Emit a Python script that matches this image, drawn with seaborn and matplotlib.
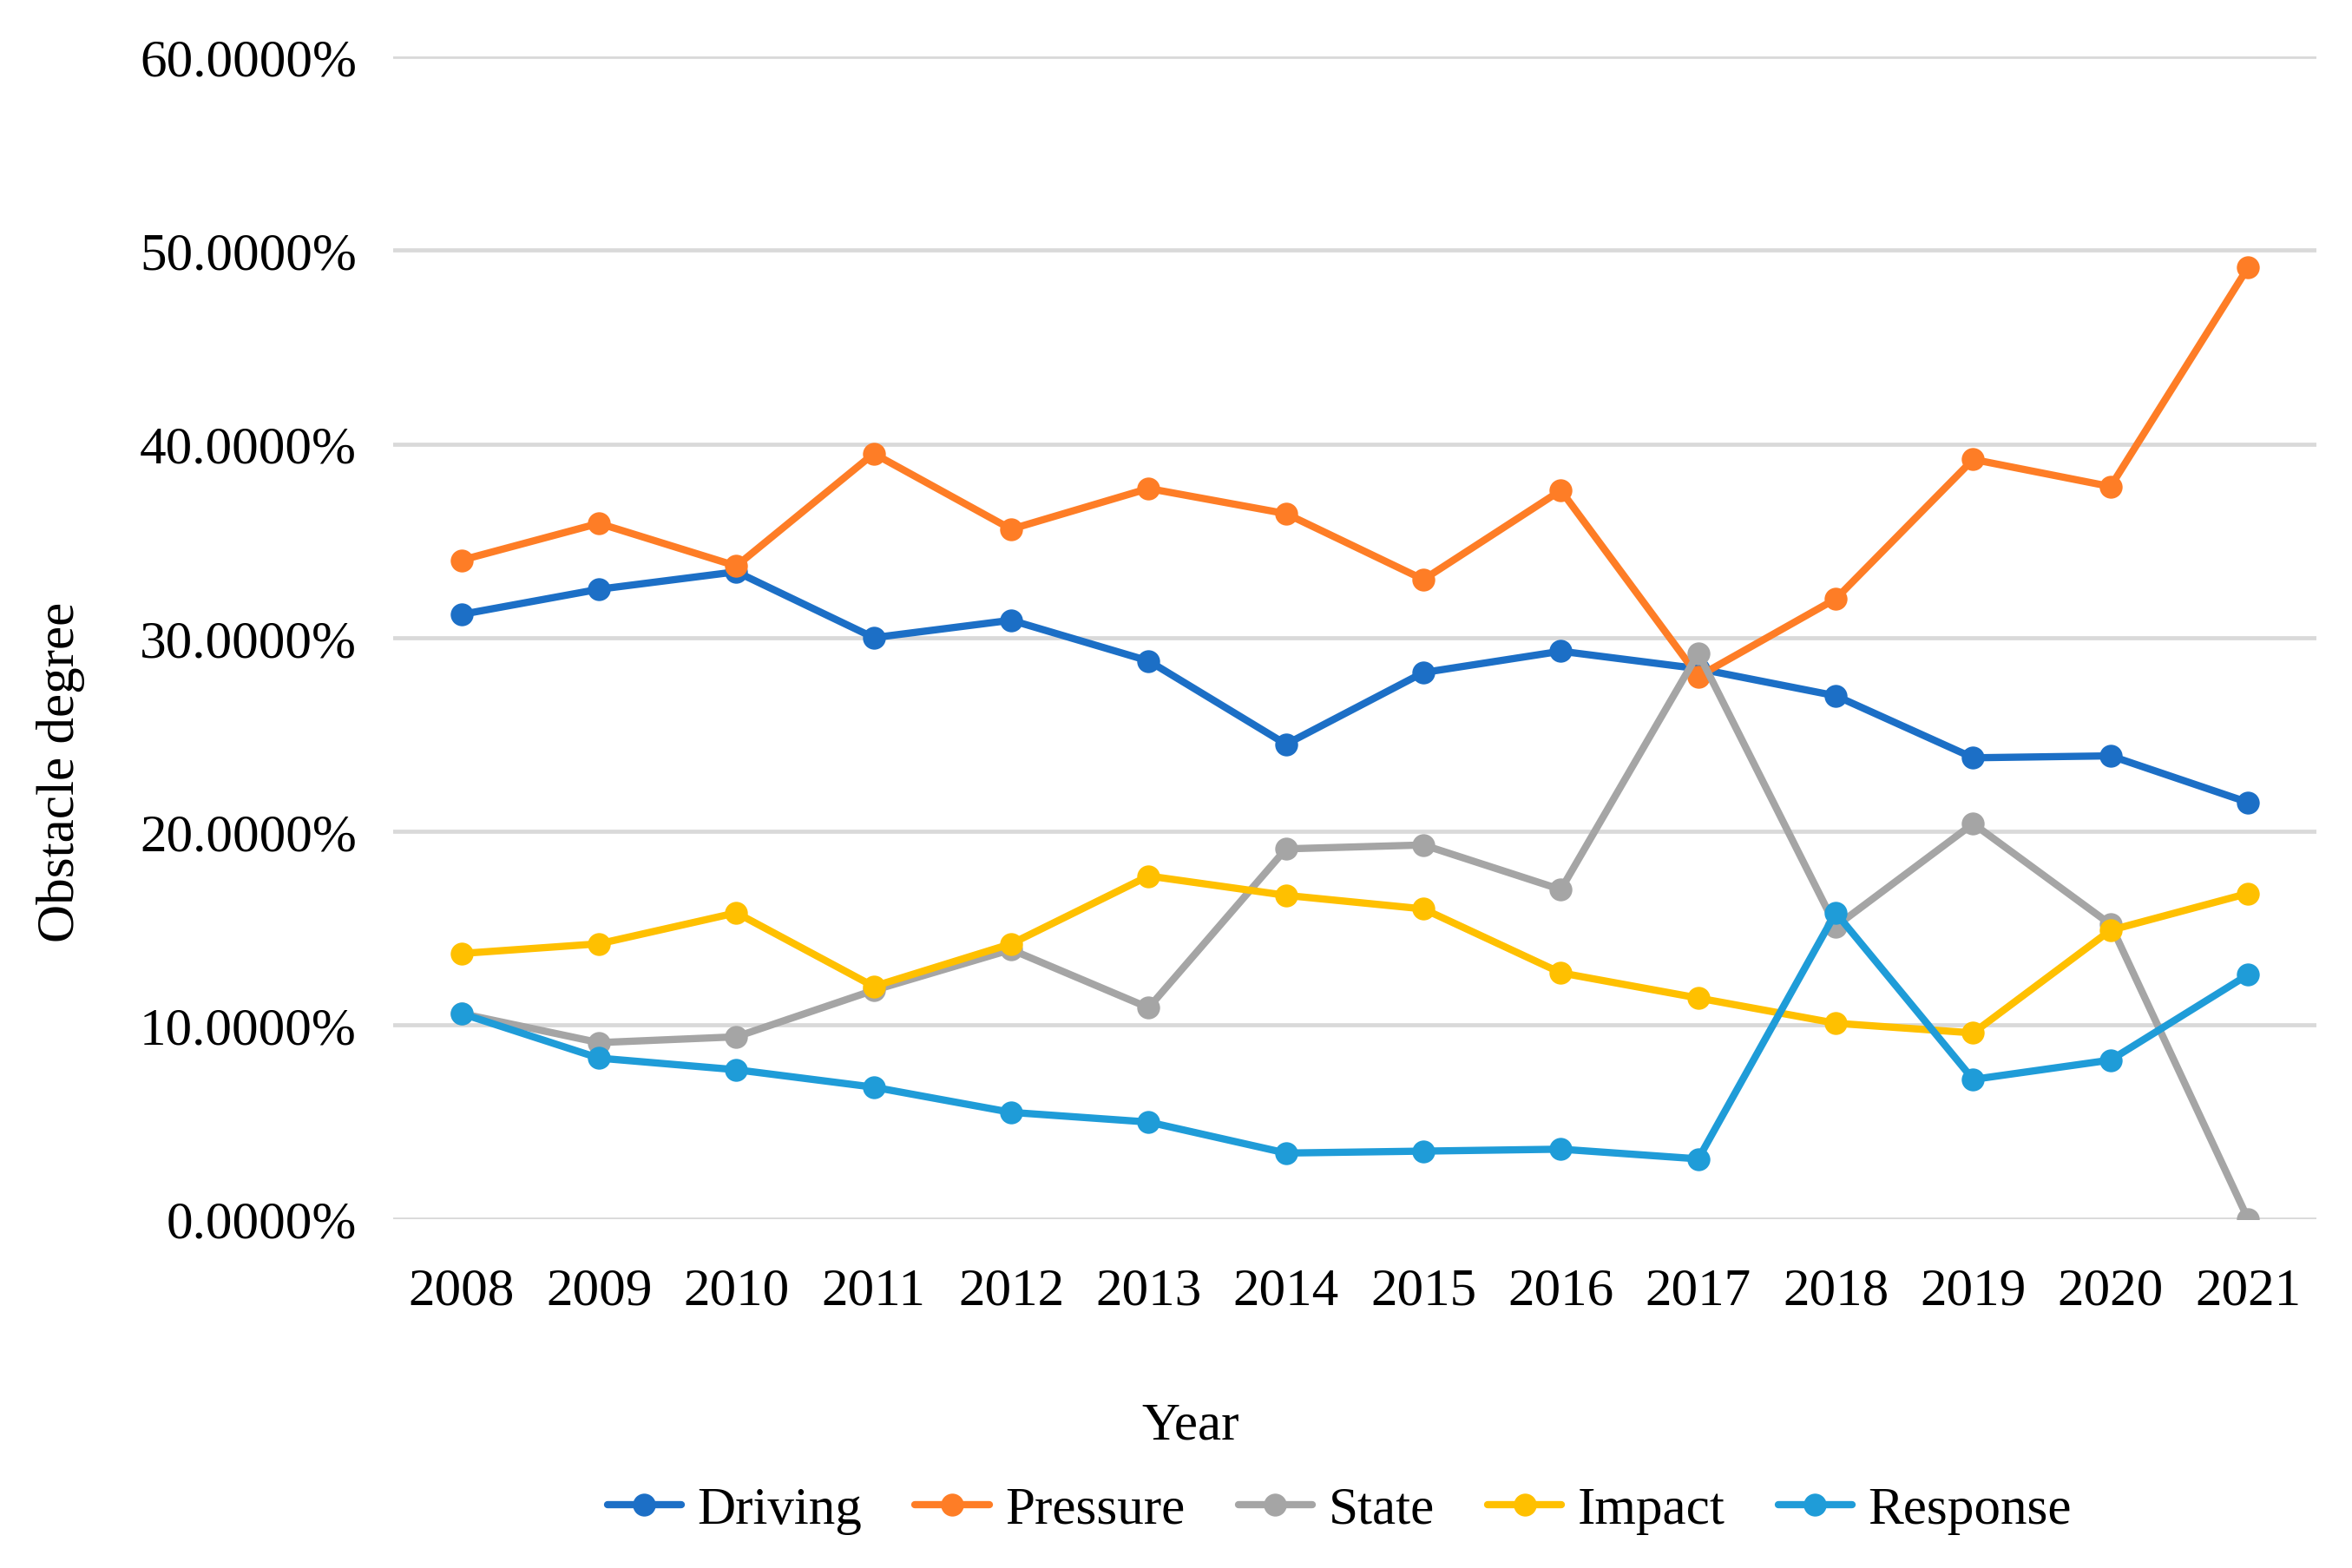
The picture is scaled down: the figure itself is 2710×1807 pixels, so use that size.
import matplotlib
matplotlib.use('Agg')
import matplotlib.pyplot as plt
from matplotlib import ticker
import seaborn as sns
import pandas as pd
import numpy as np

years = [2008, 2009, 2010, 2011, 2012, 2013, 2014, 2015, 2016, 2017, 2018, 2019, 2020, 2021]
driving = [31.2, 32.5, 33.4, 30.0, 30.9, 28.8, 24.5, 28.2, 29.3, 28.4, 27.0, 23.8, 23.9, 21.5]
pressure = [34.0, 35.9, 33.7, 39.5, 35.6, 37.7, 36.4, 33.0, 37.6, 28.0, 32.0, 39.2, 37.8, 49.1]
state = [10.6, 9.1, 9.4, 11.8, 13.9, 10.9, 19.1, 19.3, 17.0, 29.2, 15.1, 20.4, 15.2, 0.0]
impact = [13.7, 14.2, 15.8, 12.0, 14.2, 17.7, 16.7, 16.0, 12.7, 11.4, 10.1, 9.6, 14.9, 16.8]
response = [10.6, 8.3, 7.7, 6.8, 5.5, 5.0, 3.4, 3.5, 3.6, 3.1, 15.8, 7.2, 8.2, 12.6]

series_names = ['Driving', 'Pressure', 'State', 'Impact', 'Response']
series_colors = ['#1C6FC6', '#FE7D26', '#A5A5A5', '#FFC000', '#1F9CD8']

# 长表格式，方便 seaborn 按 hue 绘制
df = pd.concat([
    pd.DataFrame({'Year': years, 'value': vals, 'series': name})
    for name, vals in zip(series_names, [driving, pressure, state, impact, response])
], ignore_index=True)

sns.set_style('white')
plt.rcParams['font.family'] = ['Liberation Serif', 'DejaVu Serif']
plt.rcParams['text.color'] = 'black'
plt.rcParams['xtick.color'] = 'black'
plt.rcParams['ytick.color'] = 'black'

FS = 22

fig = plt.figure(figsize=(13.55, 9.04), dpi=200)
ax = fig.add_axes([0.167, 0.2225, 0.818, 0.741])

sns.lineplot(data=df, x='Year', y='value', hue='series', hue_order=series_names,
             palette=series_colors, marker='o', markersize=9.5, markeredgewidth=0,
             linewidth=3.0, ax=ax, legend=True)

ax.set_xlim(years[0] - 0.5, years[-1] + 0.5)
ax.set_ylim(0, 60)
ax.set_xticks(years)
ax.set_xticklabels([str(y) for y in years])
ax.yaxis.set_major_locator(ticker.MultipleLocator(10))
ax.yaxis.set_major_formatter(ticker.FuncFormatter(lambda v, p: f"{v:.4f}%"))
ax.grid(axis='y', color='#D9D9D9', linewidth=1.7)
ax.grid(axis='x', visible=False)
ax.set_axisbelow(True)
for sp in ax.spines.values():
    sp.set_visible(False)
ax.tick_params(axis='x', length=0, pad=20, labelsize=FS, labelcolor='black')
ax.tick_params(axis='y', length=0, pad=15, labelsize=FS, labelcolor='black')
ax.set_xlabel('')
ax.set_ylabel('')

# 坐标轴标题
fig.text(0.506, 0.091, 'Year', ha='center', va='center', fontsize=FS, color='black')
fig.text(0.026, 0.508, 'Obstacle degree', ha='center', va='center', rotation=90,
         fontsize=FS, color='black')

# 图例放在底部
handles, labels = ax.get_legend_handles_labels()
leg = ax.legend(handles, labels, ncol=5, loc='center', bbox_to_anchor=(0.5695, 0.037),
                bbox_transform=fig.transFigure, frameon=False, fontsize=FS,
                handlelength=1.4, handletextpad=0.3, columnspacing=1.0)
for t in leg.get_texts():
    t.set_color('black')

fig.savefig('out.png', dpi=200)
plt.close(fig)
